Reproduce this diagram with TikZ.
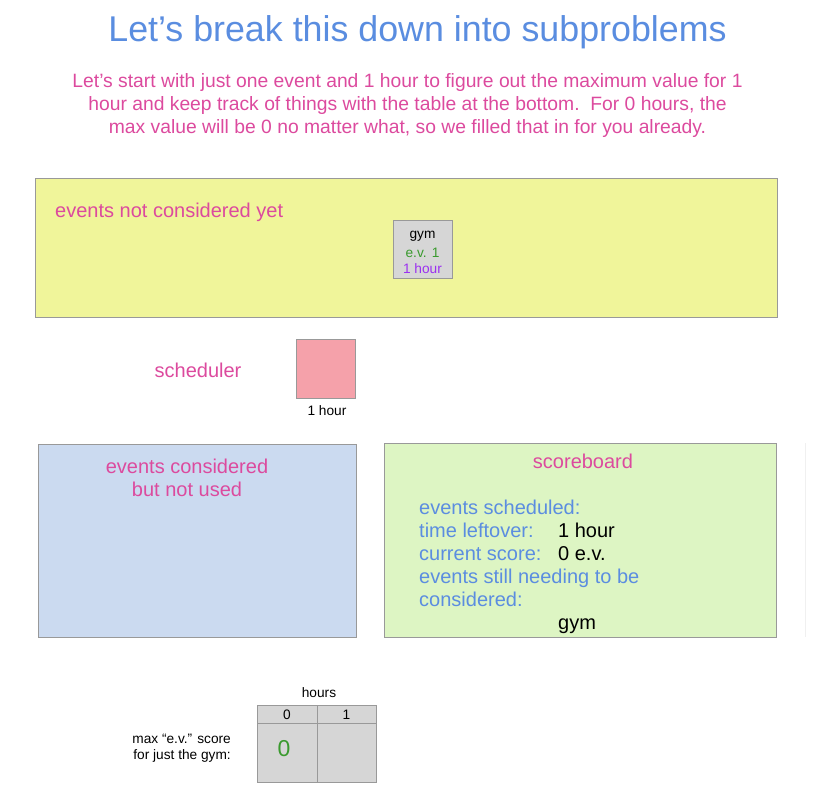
\documentclass[tikz,border=0pt]{standalone}
\usepackage{fontspec}
\setmainfont{Liberation Sans}
\definecolor{titleblue}{HTML}{5A8DE0}
\definecolor{pinktext}{HTML}{DC4A9E}
\definecolor{yellowfill}{HTML}{F0F59A}
\definecolor{greenfill}{HTML}{DDF5C3}
\definecolor{bluefill}{HTML}{CBDAF0}
\definecolor{pinkfill}{HTML}{F5A1AA}
\definecolor{cellgray}{HTML}{D6D6D6}
\definecolor{bordergray}{HTML}{999999}
\definecolor{evgreen}{HTML}{3A9A2E}
\definecolor{hourpurple}{HTML}{9B30F0}
\definecolor{sbblue}{HTML}{5B8DE0}
\tikzset{
  panel/.style={draw=bordergray, line width=0.8pt},
  pinklabel/.style={text=pinktext, font=\fontsize{20}{24}\selectfont, inner sep=0pt, anchor=base},
  introline/.style={text=pinktext, font=\fontsize{19.3}{23}\selectfont, inner sep=0pt, anchor=base},
  sblabel/.style={text=sbblue, font=\fontsize{20}{24}\selectfont, inner sep=0pt, anchor=base west},
  sbval/.style={text=black, font=\fontsize{20}{24}\selectfont, inner sep=0pt, anchor=base west},
  small/.style={font=\fontsize{13.7}{16}\selectfont, inner sep=0pt},
  cell/.style={draw=bordergray, fill=cellgray, line width=0.8pt},
}
\begin{document}
\begin{tikzpicture}[x=1pt,y=-1pt]
\useasboundingbox (0,0) rectangle (816,804);
% title
\node[text=titleblue, font=\fontsize{35.8}{40}\selectfont, inner sep=0pt, anchor=base] (title) at (417.5,41) {Let’s break this down into subproblems};
\node[introline] (intro1) at (407.5,87) {Let’s start with just one event and 1 hour to figure out the maximum value for 1};
\node[introline] (intro2) at (407.5,110) {hour and keep track of things with the table at the bottom.\ \ For 0 hours, the};
\node[introline] (intro3) at (407.5,133) {max value will be 0 no matter what, so we filled that in for you already.};
% yellow panel
\path[panel, fill=yellowfill] (35,178) rectangle (777,317);
\node[pinklabel, anchor=base west] (notyet) at (55,217) {events not considered yet};
\path[panel, fill=cellgray] (393,220) rectangle (452,278);
\node[small, text=black] (gym) at (422.5,236) {gym};
\node[small, text=evgreen] (ev) at (422.5,253) {e.v. 1};
\node[small, text=hourpurple] (hr) at (422.5,269) {1 hour};
% scheduler
\node[pinklabel] (sched) at (198,377) {scheduler};
\path[panel, fill=pinkfill] (296,339) rectangle (355,398);
\node[small, anchor=base] (schedhr) at (327,415) {1 hour};
% blue panel
\path[panel, fill=bluefill] (38,444) rectangle (356,637);
\node[pinklabel] (notused1) at (187,473) {events considered};
\node[pinklabel] (notused2) at (187,496) {but not used};
% green panel
\path[panel, fill=greenfill] (384,443) rectangle (776,637);
\node[pinklabel] (score) at (583,468) {scoreboard};
\node[sblabel] (l1) at (419,514) {events scheduled:};
\node[sblabel] (l2) at (419,537) {time leftover:};
\node[sbval] (v2) at (558,537) {1 hour};
\node[sblabel] (l3) at (419,560) {current score:};
\node[sbval] (v3) at (558,560) {0 e.v.};
\node[sblabel] (l4) at (419,583) {events still needing to be};
\node[sblabel] (l5) at (419,606) {considered:};
\node[sbval] (v5) at (558,629) {gym};
\draw[black!6, line width=0.6pt] (805.5,443) -- (805.5,637);
% table
\node[small] (hours) at (319,693) {hours};
\path[cell] (257,705) rectangle (317,723);
\path[cell] (317,705) rectangle (376,723);
\path[cell] (257,723) rectangle (317,782);
\path[cell] (317,723) rectangle (376,782);
\node[small] (h0) at (287,715) {0};
\node[small] (h1) at (346.5,715) {1};
\node[text=evgreen, font=\fontsize{23}{26}\selectfont, inner sep=0pt] (zero) at (284,749) {0};
\node[small, align=right, anchor=east] (maxlbl) at (231,748) {max “e.v.” score\\for just the gym:};
\end{tikzpicture}
\end{document}
